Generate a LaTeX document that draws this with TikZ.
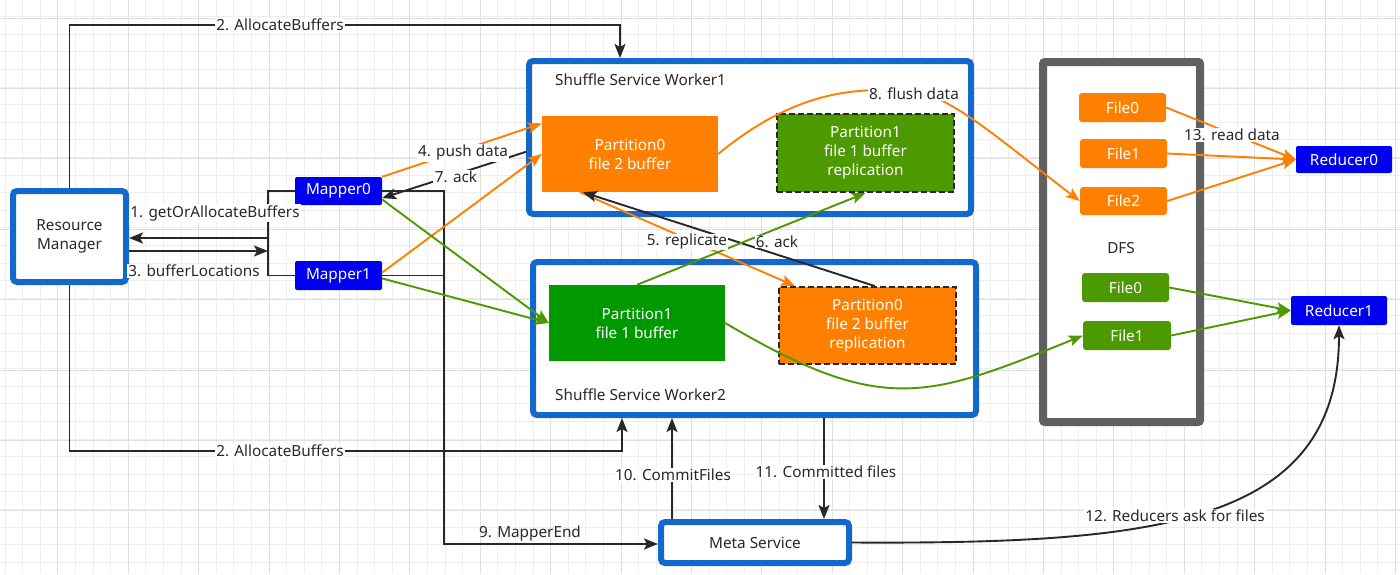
\documentclass[tikz,border=0pt]{standalone}
\usepackage{fontspec}
\setmainfont{Noto Sans}
\usetikzlibrary{arrows.meta,calc}
\definecolor{wblue}{RGB}{18,104,204}
\definecolor{mblue}{RGB}{0,0,240}
\definecolor{org}{RGB}{255,128,0}
\definecolor{grn}{RGB}{0,153,0}
\definecolor{lgrn}{RGB}{77,153,0}
\definecolor{dgray}{RGB}{96,96,96}
\definecolor{ink}{RGB}{40,40,40}
\definecolor{gmin}{RGB}{238,238,238}
\definecolor{gmaj}{RGB}{224,224,224}
\tikzset{
  lbl/.style={fill=white, text=ink, inner sep=1.5pt},
  freelbl/.style={text=ink, inner sep=0pt},
  cont/.style={draw=wblue, line width=6pt, rounded corners=4pt, fill=white, text=ink, inner sep=0pt},
  mbox/.style={fill=mblue, text=white, rounded corners=2pt, inner sep=0pt},
  obox/.style={fill=org, text=white, inner sep=0pt, align=center},
  gbox/.style={fill=grn, text=white, inner sep=0pt, align=center},
  repbox/.style={draw=ink, line width=2pt, dash pattern=on 6pt off 3pt, text=white, inner sep=0pt, align=center},
  filebox/.style={text=white, rounded corners=3pt, inner sep=0pt},
  tip/.style={-{Stealth[length=14pt,width=11pt,inset=3pt]}},
  blk/.style={draw=ink, line width=1.9pt},
  arr/.style={blk, tip},
  oarr/.style={draw=org, line width=1.9pt, tip},
  garr/.style={draw=lgrn, line width=1.9pt, tip},
}
\begin{document}
\begin{tikzpicture}[x=1pt,y=-1pt, font=\fontsize{15.3}{19}\selectfont]
\fill[white] (0,0) rectangle (1400,574);
\useasboundingbox (0,0) rectangle (1400,574);
% grid
\foreach \i in {0,...,79} {\draw[gmin, line width=1pt] ({5+17.6*\i},0) -- ({5+17.6*\i},574);}
\foreach \j in {0,...,32} {\draw[gmin, line width=1pt] (0,{16.7+17.6*\j-17.6}) -- (1400,{16.7+17.6*\j-17.6});}
\foreach \i in {0,...,19} {\draw[gmaj, line width=1pt] ({57.9+70.4*\i},0) -- ({57.9+70.4*\i},574);}
\foreach \j in {0,...,8} {\draw[gmaj, line width=1pt] (0,{18+70.4*\j}) -- (1400,{18+70.4*\j});}

% containers
\node[cont, minimum width=113pt, minimum height=91pt, align=center] (rm) at (69.5,236.5) {Resource\\Manager};
\node[cont, minimum width=442pt, minimum height=153pt] (w1) at (750,137.5) {};
\node[cont, minimum width=443pt, minimum height=153pt] (w2) at (754.5,338.5) {};
\node[draw=dgray, line width=8pt, fill=white, rounded corners=2pt, minimum width=157pt, minimum height=360pt] (dfs) at (1121.5,242) {};
\node[cont, minimum width=188pt, minimum height=41pt] (meta) at (755,542.5) {Meta Service};
\node[anchor=west, text=ink, inner sep=0pt] (w1l) at (555,80) {Shuffle Service Worker1};
\node[anchor=west, text=ink, inner sep=0pt] (w2l) at (555,395) {Shuffle Service Worker2};
\node[text=ink, inner sep=0pt] (dfsl) at (1121,248) {DFS};

% mappers, reducers
\node[mbox, minimum width=87pt, minimum height=28pt] (m0) at (338.5,191) {Mapper0};
\node[mbox, minimum width=87pt, minimum height=29pt] (m1) at (338.5,275.5) {Mapper1};
\node[mbox, minimum width=96pt, minimum height=27pt] (r0) at (1344,159.5) {Reducer0};
\node[mbox, minimum width=96pt, minimum height=29pt] (r1) at (1339,310.5) {Reducer1};

% partitions
\node[obox, minimum width=176pt, minimum height=76pt] (p0) at (630,154) {Partition0\\file 2 buffer};
\node[repbox, fill=lgrn, minimum width=177pt, minimum height=78pt] (p1r) at (865.5,153) {Partition1\\file 1 buffer\\replication};
\node[gbox, minimum width=176pt, minimum height=76pt] (p1) at (637,323) {Partition1\\file 1 buffer};
\node[repbox, fill=org, minimum width=177pt, minimum height=77pt] (p0r) at (867.5,325.5) {Partition0\\file 2 buffer\\replication};

% files
\node[filebox, fill=org, minimum width=87pt, minimum height=29pt] (f0) at (1122.5,107.5) {File0};
\node[filebox, fill=org, minimum width=87pt, minimum height=29pt] (f1) at (1123.5,153.5) {File1};
\node[filebox, fill=org, minimum width=87pt, minimum height=28pt] (f2) at (1123.5,201) {File2};
\node[filebox, fill=lgrn, minimum width=87pt, minimum height=29pt] (f0g) at (1125.5,287.5) {File0};
\node[filebox, fill=lgrn, minimum width=88pt, minimum height=29pt] (f1g) at (1127,335.5) {File1};

% resource manager connections
\coordinate (ta) at (620,25);
\draw[arr] (rm.north) |- (ta) -- (ta |- w1.north);
\coordinate (ba) at (622,451);
\draw[arr] (rm.south) |- (ba) -- (ba |- w2.south);
\coordinate (br0) at (268,191);
\coordinate (br1) at (268,275.5);
\draw[blk] (m0.west) -- (br0) -- (br1) -- (m1.west);
\coordinate (g1) at (268,238);
\draw[arr] (g1) -- (g1 -| rm.east);
\coordinate (g3) at (268,251);
\draw[arr] (g3 -| rm.east) -- (g3);

% mapper end
\coordinate (me0) at (444,191);
\coordinate (me1) at (444,275.5);
\coordinate (me2) at (444,544);
\draw[arr] (m0.east) -- (me0) -- (me2) -- (me2 -| meta.west);
\draw[blk] (m1.east) -- (me1);

% push data / ack
\draw[oarr] (m0.north east) -- ($(p0.north west)!0.1!(p0.south west)$);
\draw[oarr] ($(m1.north east)!0.4!(m1.south east)$) -- (p0.west);
\draw[arr] ($(w1.north west)!0.59!(w1.south west)$) -- ($(m0.north east)!0.75!(m0.south east)$);
\draw[garr] ($(m0.north east)!0.8!(m0.south east)$) -- (p1.west);
\draw[garr] ($(m1.north east)!0.6!(m1.south east)$) -- (p1.west);

% replicate / ack
\draw[oarr] ($(p0.south west)!0.216!(p0.south east)$) -- ($(p0r.north west)!0.095!(p0r.north east)$);
\draw[arr] ($(p0r.north west)!0.54!(p0r.north east)$) -- ($(p0.south west)!0.233!(p0.south east)$);
\draw[garr] (p1.north) -- (p1r.south);

% flush
\draw[oarr] (p0.east) .. controls (790,95) and (850,85) .. (914,92) .. controls (950,95) and (1000,140) .. (f2.west);
\draw[garr] (p1.east) .. controls (882,416) and (927,399) .. (f1g.west);

% read data
\draw[oarr] (f0.east) -- (r0.west);
\draw[oarr] (f1.east) -- (r0.west);
\draw[oarr] (f2.east) -- (r0.west);
\draw[garr] (f0g.east) -- (r1.west);
\draw[garr] (f1g.east) -- (r1.west);

% meta
\coordinate (c10) at (672,470);
\draw[arr] (meta.north -| c10) -- (w2.south -| c10);
\coordinate (c11) at (824,470);
\draw[arr] (w2.south -| c11) -- (meta.north -| c11);
\draw[arr] (meta.east) .. controls (1152,544) and (1339,527) .. (r1.south);

% labels
\node[lbl] (l2a) at (280,25) {2. AllocateBuffers};
\node[lbl] (l2b) at (280,451) {2. AllocateBuffers};
\node[lbl] (l1) at (215,213) {1. getOrAllocateBuffers};
\node[lbl] (l3) at (194,271) {3. bufferLocations};
\node[lbl] (l4) at (463,153) {4. push data};
\node[lbl] (l7) at (456,177) {7. ack};
\node[lbl, inner sep=0.5pt] (l5) at (687,242) {5. replicate};
\node[lbl, inner sep=0.5pt] (l6) at (777,242) {6. ack};
\node[lbl] (l8) at (914,94) {8. flush data};
\node[lbl] (l13) at (1232,135) {13. read data};
\node[freelbl] (l9) at (530,534) {9. MapperEnd};
\node[lbl] (l10) at (673,475) {10. CommitFiles};
\node[lbl] (l11) at (826,472) {11. Committed files};
\node[lbl] (l12) at (1175,516) {12. Reducers ask for files};
\end{tikzpicture}
\end{document}
